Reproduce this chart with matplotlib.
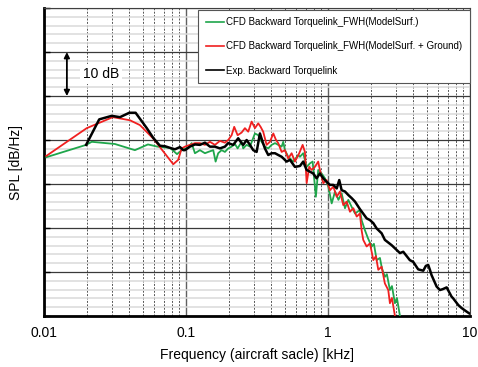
import numpy as np
import matplotlib
matplotlib.use("Agg")
from matplotlib import pyplot as plt
from matplotlib.ticker import FixedLocator, NullFormatter

plt.rcParams['font.family'] = ['Liberation Sans', 'DejaVu Sans']

# CFD, model surfaces only (green)
f_surf = [0.0104, 0.0198, 0.0217, 0.0316, 0.0437, 0.054, 0.063, 0.0775, 0.0865, 0.0933,
          0.1038, 0.1097, 0.1157, 0.1255, 0.1361, 0.1436, 0.1557, 0.1618, 0.1687, 0.1783,
          0.1882, 0.1985, 0.2098, 0.2213, 0.2312, 0.2466, 0.2532, 0.2676, 0.2823, 0.3062,
          0.3230, 0.3412, 0.3599, 0.3799, 0.4014, 0.4241, 0.4467, 0.4721, 0.4845, 0.4981,
          0.5254, 0.5699, 0.6180, 0.6353, 0.6701, 0.7084, 0.7471, 0.7806, 0.8226, 0.8545,
          0.9026, 0.9532, 1.0069, 1.0632, 1.1226, 1.1857, 1.2493, 1.319, 1.392, 1.470,
          1.552, 1.680, 1.727, 1.823, 1.914, 2.033, 2.109, 2.205, 2.325, 2.399,
          2.519, 2.603, 2.734, 2.825, 2.966, 3.063, 3.217]
spl_surf = [36.1, 38.9, 39.6, 39.1, 37.7, 39.0, 38.5, 38.2, 36.8, 37.7,
            38.3, 39.3, 37.0, 37.7, 37.0, 37.3, 37.7, 35.1, 37.0, 37.7,
            37.3, 38.1, 38.5, 39.1, 38.1, 39.6, 38.1, 38.9, 38.5, 41.5,
            41.1, 39.6, 38.5, 38.1, 38.9, 39.3, 38.9, 38.5, 39.6, 37.7,
            36.2, 35.1, 36.6, 36.2, 37.0, 33.9, 34.7, 35.1, 27.1, 33.2,
            32.4, 31.3, 29.4, 25.6, 28.3, 26.4, 27.9, 24.5, 26.4, 24.8,
            23.3, 24.1, 21.8, 19.5, 17.7, 15.8, 16.4, 12.7, 13.2, 10.9,
            8.9, 9.5, 5.9, 6.8, 2.9, 4.1, 0.0]

# CFD, model surfaces + ground (red)
f_ground = [0.0104, 0.020, 0.0305, 0.0403, 0.0474, 0.0586, 0.0814, 0.0882, 0.0933, 0.0984,
            0.1067, 0.1157, 0.1255, 0.1361, 0.1476, 0.160, 0.1735, 0.1882, 0.1985, 0.2098,
            0.2188, 0.2312, 0.2466, 0.2603, 0.2746, 0.2902, 0.3062, 0.3230, 0.3357, 0.3501,
            0.3700, 0.3905, 0.4125, 0.4310, 0.4467, 0.4721, 0.4981, 0.5254, 0.5551, 0.5857,
            0.6281, 0.6637, 0.6889, 0.7084, 0.7386, 0.7681, 0.8096, 0.8545, 0.8780, 0.9276,
            0.9796, 1.0344, 1.0925, 1.1538, 1.2156, 1.2836, 1.355, 1.430, 1.5106, 1.595,
            1.680, 1.727, 1.774, 1.874, 1.978, 2.089, 2.178, 2.264, 2.390, 2.519,
            2.661, 2.734, 2.825, 2.966]
spl_ground = [36.4, 42.7, 45.2, 44.5, 43.4, 40.4, 34.5, 35.5, 38.1, 38.5,
              38.9, 39.3, 39.3, 38.9, 39.6, 38.9, 39.8, 39.4, 40.0, 41.1,
              43.0, 41.1, 41.7, 42.7, 41.9, 44.2, 42.7, 43.8, 43.0, 41.9,
              38.9, 39.6, 41.5, 40.0, 39.3, 37.3, 37.7, 35.8, 37.0, 35.1,
              37.0, 38.9, 37.3, 30.2, 33.9, 33.2, 33.9, 35.1, 33.2, 30.2,
              30.9, 28.6, 29.4, 27.1, 28.3, 25.2, 26.0, 23.7, 24.5, 22.6,
              23.3, 19.5, 17.3, 15.8, 16.5, 12.7, 13.6, 10.5, 11.2, 7.4,
              5.9, 2.9, 4.1, 0.0]

# experiment (black)
f_exp = [0.0198, 0.0245, 0.0300, 0.0343, 0.0399, 0.0442, 0.053, 0.0588, 0.0656, 0.0711,
         0.0793, 0.0837, 0.0908, 0.0957, 0.0984, 0.1067, 0.1157, 0.1255, 0.1361, 0.1476,
         0.160, 0.1735, 0.1882, 0.1985, 0.2153, 0.2334, 0.2466, 0.2532, 0.2676, 0.2823,
         0.2979, 0.3147, 0.3320, 0.3467, 0.3599, 0.3799, 0.4014, 0.4241, 0.4467, 0.4721,
         0.5120, 0.5400, 0.5857, 0.6353, 0.6701, 0.7084, 0.7471, 0.7880, 0.8321, 0.8780,
         0.9276, 0.9796, 1.0344, 1.0925, 1.1538, 1.2019, 1.2493, 1.319, 1.392, 1.470,
         1.552, 1.680, 1.874, 1.978, 2.089, 2.205, 2.390, 2.519, 2.811, 3.217,
         3.394, 3.776, 3.990, 4.325, 4.446, 4.696, 4.898, 5.09, 5.23, 5.37,
         5.83, 6.15, 6.44, 6.86, 7.43, 7.63, 8.28, 8.75, 9.38, 9.89]
spl_exp = [38.9, 44.7, 45.5, 45.2, 46.2, 46.2, 42.7, 40.5, 38.7, 38.6,
           38.1, 37.9, 38.4, 37.7, 37.7, 38.5, 39.0, 38.9, 39.4, 38.5,
           38.5, 38.1, 38.5, 39.3, 38.9, 40.4, 39.3, 38.9, 40.0, 38.9,
           37.7, 37.3, 41.5, 39.6, 38.1, 36.6, 37.0, 37.0, 36.6, 36.2,
           35.1, 35.5, 33.9, 34.1, 35.1, 33.2, 32.8, 32.4, 31.3, 32.4,
           31.3, 30.5, 29.8, 29.8, 29.0, 30.9, 28.6, 28.3, 27.5, 26.8,
           26.0, 24.3, 22.2, 21.8, 21.1, 19.9, 18.8, 17.3, 16.1, 14.3,
           14.6, 12.7, 12.3, 10.6, 10.5, 10.3, 11.4, 11.6, 10.5, 9.3,
           6.7, 5.9, 6.1, 6.5, 4.4, 4.0, 2.5, 1.8, 1.1, 0.6]

labels = ["CFD Backward Torquelink_FWH(ModelSurf.)",
          "CFD Backward Torquelink_FWH(ModelSurf. + Ground)",
          "Exp. Backward Torquelink"]

fig = plt.figure(figsize=(4.78, 3.67), dpi=100)
ax = fig.add_axes([0.092, 0.139, 0.891, 0.839])

ax.set_xscale("log")
ax.set_xlim(0.01, 10)
ax.set_ylim(0, 70)

# grid
ax.yaxis.set_major_locator(FixedLocator(np.arange(0, 71, 10)))
ax.yaxis.set_minor_locator(FixedLocator(np.arange(0, 71, 2)))
ax.yaxis.set_major_formatter(NullFormatter())
ax.grid(True, which="minor", axis="y", color="#dadada", lw=1.1, zorder=0)
ax.grid(True, which="major", axis="y", color="#3a3a3a", lw=0.9, zorder=0)
ax.grid(True, which="minor", axis="x", color="#555555", lw=0.7, ls=(0, (2, 1.5)), zorder=0)
ax.grid(True, which="major", axis="x", color="#606060", lw=1.0, zorder=0)
ax.set_axisbelow(True)
ax.set_xticks([0.01, 0.1, 1, 10])
ax.set_xticklabels(["0.01", "0.1", "1", "10"])
ax.xaxis.set_minor_formatter(NullFormatter())
ax.tick_params(axis="x", which="both", length=0, pad=7, labelsize=10)
ax.tick_params(axis="y", which="major", direction="in", length=4, width=1)
ax.tick_params(axis="y", which="minor", length=0)

for s in ["left", "bottom"]:
    ax.spines[s].set_linewidth(2)
for s in ["top", "right"]:
    ax.spines[s].set_linewidth(0.8)
    ax.spines[s].set_color("#404040")

ax.plot(f_surf, spl_surf, color="#1fa64b", lw=1.3, label=labels[0], zorder=3)
ax.plot(f_ground, spl_ground, color="#f02020", lw=1.3, label=labels[1], zorder=4)
ax.plot(f_exp, spl_exp, color="black", lw=1.8, label=labels[2], zorder=5)

# 10 dB scale arrow
ax.annotate("", xy=(0.0145, 60), xytext=(0.0145, 50),
            arrowprops=dict(arrowstyle="<|-|>", color="black", lw=1.3,
                            mutation_scale=8, shrinkA=0, shrinkB=0), zorder=6)
ax.text(0.0188, 55, "10 dB", fontsize=10, va="center", ha="left",
        bbox=dict(facecolor="white", edgecolor="none", pad=2), zorder=6)

leg = ax.legend(loc="upper right", bbox_to_anchor=(1.0, 0.995), fontsize=7,
                frameon=True, fancybox=False, edgecolor="#555555", framealpha=1,
                handlelength=1.9, handletextpad=0.2, labelspacing=1.45,
                borderpad=0.8, borderaxespad=0)
leg.get_frame().set_linewidth(0.8)
for line in leg.get_lines():
    line.set_linewidth(1.2)

ax.set_xlabel("Frequency (aircraft sacle) [kHz]", fontsize=10, labelpad=6)
ax.set_ylabel("SPL [dB/Hz]", fontsize=10)
ax.yaxis.set_label_coords(-0.05, 0.5)

fig.savefig("out.png", dpi=100)
